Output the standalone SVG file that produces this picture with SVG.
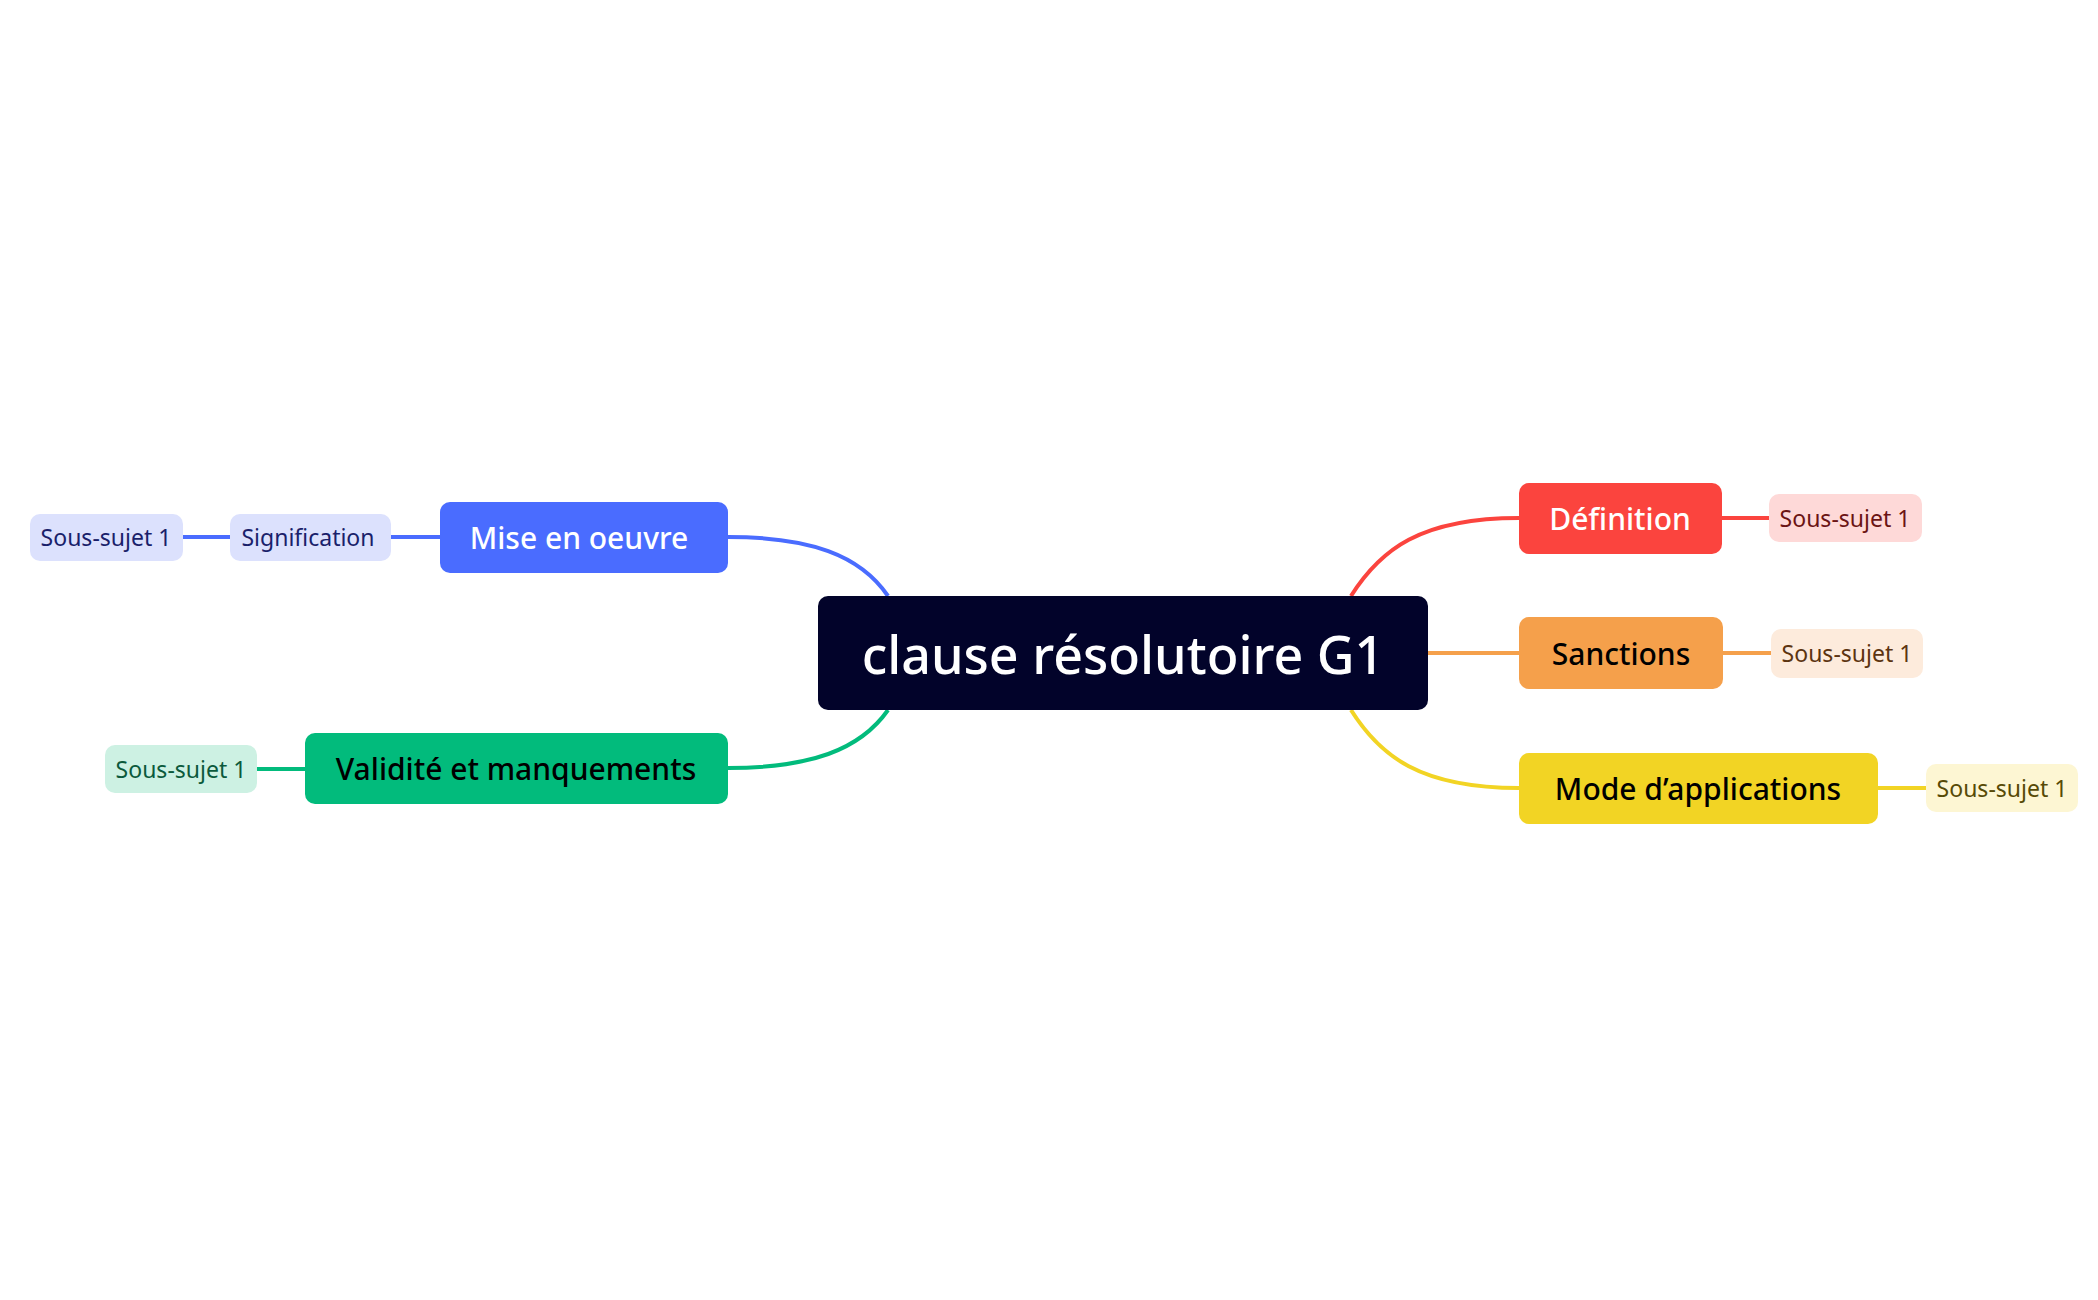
<svg xmlns="http://www.w3.org/2000/svg" width="2098" height="1300" viewBox="0 0 2098 1300">
<style>
text{font-family:"Noto Sans","Liberation Sans",sans-serif;text-anchor:middle;dominant-baseline:central}
.c{fill:none;stroke-width:4}
.main{font-size:30px;font-weight:500}
.sub{font-size:23px}
</style>
<rect width="2098" height="1300" fill="#fff"/>
<g id="connectors">
<path class="c" stroke="#4A6CFF" d="M728,537 C810,537 860,555 888,596"/>
<path class="c" stroke="#02BB7C" d="M728,768 C810,768 860,750 888,710"/>
<path class="c" stroke="#FB443E" d="M1351,596 C1380,550 1420,518 1519,518"/>
<path class="c" stroke="#F5A04B" d="M1428,653 H1519"/>
<path class="c" stroke="#F2D424" d="M1351,710 C1380,756 1420,788 1519,788"/>
<path class="c" stroke="#4A6CFF" d="M391,537 H440 M183,537 H230"/>
<path class="c" stroke="#02BB7C" d="M257,769 H305"/>
<path class="c" stroke="#FB443E" d="M1722,518 H1769"/>
<path class="c" stroke="#F5A04B" d="M1723,653 H1771"/>
<path class="c" stroke="#F2D424" d="M1878,788 H1926"/>
</g>
<g id="center"><rect x="818" y="596" width="610" height="114" rx="10" fill="#02032A"/><text x="1123" y="653" font-size="52" font-weight="500" fill="#fff">clause résolutoire G1</text></g>
<g id="mise"><rect x="440" y="502" width="288" height="71" rx="10" fill="#4A6CFF"/><text class="main" x="579" y="537" fill="#fff">Mise en oeuvre</text></g>
<g id="signification"><rect x="230" y="514" width="161" height="47" rx="10" fill="#DCE1FD"/><text class="sub" x="308" y="537" fill="#1A1F6B">Signification</text></g>
<g id="ss-blue"><rect x="30" y="514" width="153" height="47" rx="10" fill="#DCE1FD"/><text class="sub" x="106" y="537" fill="#1A1F6B">Sous-sujet 1</text></g>
<g id="validite"><rect x="305" y="733" width="423" height="71" rx="10" fill="#02BB7C"/><text class="main" x="516" y="768" fill="#000">Validité et manquements</text></g>
<g id="ss-green"><rect x="105" y="745" width="152" height="48" rx="10" fill="#CDF1E3"/><text class="sub" x="181" y="769" fill="#0B5A3C">Sous-sujet 1</text></g>
<g id="definition"><rect x="1519" y="483" width="203" height="71" rx="10" fill="#FB443E"/><text class="main" x="1620" y="518" fill="#fff">Définition</text></g>
<g id="ss-red"><rect x="1769" y="494" width="153" height="48" rx="10" fill="#FED9D8"/><text class="sub" x="1845" y="518" fill="#6B1414">Sous-sujet 1</text></g>
<g id="sanctions"><rect x="1519" y="617" width="204" height="72" rx="10" fill="#F5A04B"/><text class="main" x="1621" y="653" fill="#000">Sanctions</text></g>
<g id="ss-orange"><rect x="1771" y="629" width="152" height="49" rx="10" fill="#FDEBDC"/><text class="sub" x="1847" y="653" fill="#5C3410">Sous-sujet 1</text></g>
<g id="mode"><rect x="1519" y="753" width="359" height="71" rx="10" fill="#F2D424"/><text class="main" x="1698" y="788" fill="#000">Mode d’applications</text></g>
<g id="ss-yellow"><rect x="1926" y="764" width="152" height="48" rx="10" fill="#FDF6D3"/><text class="sub" x="2002" y="788" fill="#574A06">Sous-sujet 1</text></g>
</svg>
